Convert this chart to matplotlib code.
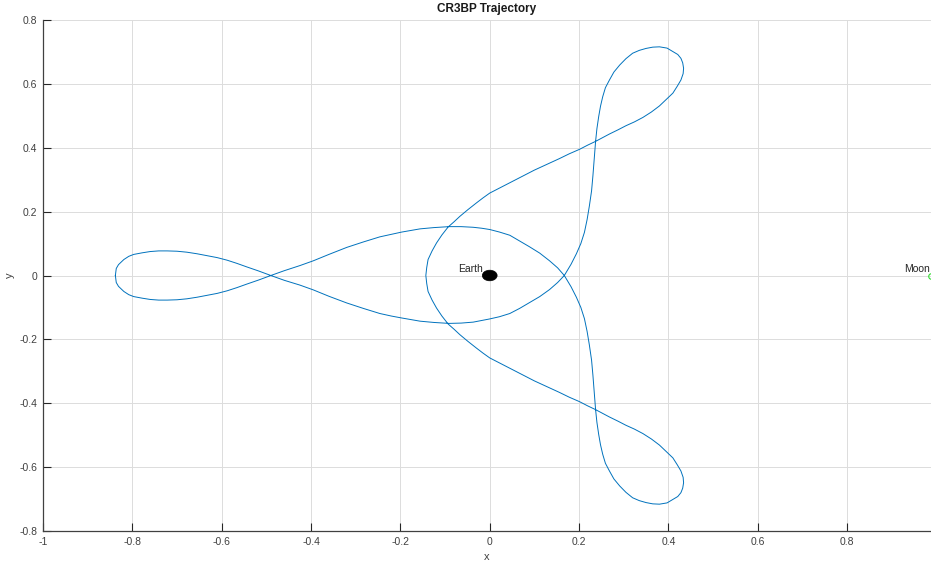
import matplotlib
matplotlib.use("Agg")
import matplotlib.pyplot as plt
import matplotlib.patches as patch

# rotating-frame trajectory, nondimensional units (Earth-Moon distance = 1),
# listed leg by leg in the order it is flown
lobe_left_up_x = [-0.838, -0.836, -0.831, -0.819, -0.808, -0.797, -0.778, -0.760, -0.741, -0.722,
                  -0.700, -0.678, -0.655, -0.633, -0.610, -0.588, -0.566, -0.544, -0.517, -0.490]
lobe_left_up_y = [0.000, 0.022, 0.034, 0.050, 0.060, 0.066, 0.071, 0.075, 0.077, 0.077,
                  0.076, 0.073, 0.068, 0.062, 0.056, 0.048, 0.038, 0.027, 0.014, 0.000]

under_earth_x = [-0.460, -0.425, -0.395, -0.360, -0.320, -0.283, -0.246, -0.220, -0.197, -0.156,
                 -0.125, -0.091, -0.064, -0.037, -0.018, 0.000, 0.022, 0.045, 0.067, 0.089,
                 0.112, 0.134, 0.152, 0.167]
under_earth_y = [-0.015, -0.030, -0.045, -0.065, -0.086, -0.103, -0.119, -0.127, -0.133, -0.143,
                 -0.147, -0.150, -0.149, -0.146, -0.141, -0.136, -0.129, -0.119, -0.103, -0.085,
                 -0.066, -0.044, -0.022, 0.000]

rise_x = [0.182, 0.194, 0.204, 0.212, 0.218, 0.223, 0.228, 0.231, 0.234, 0.237]
rise_y = [0.035, 0.068, 0.100, 0.135, 0.175, 0.217, 0.265, 0.312, 0.365, 0.420]

lobe_top_x = [0.240, 0.244, 0.248, 0.253, 0.259, 0.268, 0.278, 0.291, 0.305, 0.320,
              0.335, 0.350, 0.365, 0.380, 0.397, 0.410, 0.421, 0.428, 0.432, 0.434,
              0.433, 0.428, 0.420, 0.410, 0.395, 0.380, 0.362, 0.343, 0.324, 0.305,
              0.287, 0.268, 0.252, 0.237]
lobe_top_y = [0.460, 0.498, 0.530, 0.560, 0.588, 0.612, 0.637, 0.659, 0.679, 0.696,
              0.705, 0.711, 0.715, 0.716, 0.712, 0.701, 0.692, 0.680, 0.666, 0.649,
              0.632, 0.612, 0.593, 0.571, 0.551, 0.531, 0.512, 0.495, 0.481, 0.469,
              0.456, 0.443, 0.431, 0.420]

inbound_x = [0.219, 0.201, 0.178, 0.156, 0.128, 0.100, 0.075, 0.050, 0.025, 0.000]
inbound_y = [0.408, 0.395, 0.381, 0.366, 0.348, 0.330, 0.312, 0.294, 0.276, 0.258]

earth_swing_x = [-0.015, -0.030, -0.049, -0.067, -0.080, -0.093, -0.107, -0.119, -0.129, -0.138,
                 -0.141, -0.143, -0.141, -0.138, -0.129, -0.119, -0.107, -0.093, -0.080, -0.067,
                 -0.049, -0.030, -0.015, 0.000]
earth_swing_y = [0.243, 0.227, 0.206, 0.185, 0.168, 0.152, 0.127, 0.102, 0.077, 0.050,
                 0.025, 0.000, -0.025, -0.050, -0.077, -0.102, -0.127, -0.152, -0.168, -0.185,
                 -0.206, -0.227, -0.243, -0.258]

outbound_x = [0.025, 0.050, 0.075, 0.100, 0.128, 0.156, 0.178, 0.201, 0.219, 0.237]
outbound_y = [-0.276, -0.294, -0.312, -0.330, -0.348, -0.366, -0.381, -0.395, -0.408, -0.420]

lobe_bottom_x = [0.252, 0.268, 0.287, 0.305, 0.324, 0.343, 0.362, 0.380, 0.395, 0.410,
                 0.420, 0.428, 0.433, 0.434, 0.432, 0.428, 0.421, 0.410, 0.397, 0.380,
                 0.365, 0.350, 0.335, 0.320, 0.305, 0.291, 0.278, 0.268, 0.259, 0.253,
                 0.248, 0.244, 0.240, 0.237]
lobe_bottom_y = [-0.431, -0.443, -0.456, -0.469, -0.481, -0.495, -0.512, -0.531, -0.551, -0.571,
                 -0.593, -0.612, -0.632, -0.649, -0.666, -0.680, -0.692, -0.701, -0.712, -0.716,
                 -0.715, -0.711, -0.705, -0.696, -0.679, -0.659, -0.637, -0.612, -0.588, -0.560,
                 -0.530, -0.498, -0.460, -0.420]

climb_x = [0.234, 0.231, 0.228, 0.223, 0.218, 0.212, 0.204, 0.194, 0.182, 0.167]
climb_y = [-0.365, -0.312, -0.265, -0.217, -0.175, -0.135, -0.100, -0.068, -0.035, 0.000]

over_earth_x = [0.152, 0.134, 0.112, 0.089, 0.067, 0.045, 0.022, 0.000, -0.018, -0.037,
                -0.064, -0.091, -0.125, -0.156, -0.197, -0.220, -0.246, -0.283, -0.320, -0.360,
                -0.395, -0.425, -0.460, -0.490]
over_earth_y = [0.024, 0.046, 0.070, 0.090, 0.108, 0.126, 0.136, 0.144, 0.148, 0.151,
                0.153, 0.153, 0.150, 0.146, 0.136, 0.129, 0.121, 0.105, 0.088, 0.066,
                0.046, 0.031, 0.015, 0.000]

lobe_left_down_x = [-0.517, -0.544, -0.566, -0.588, -0.610, -0.633, -0.655, -0.678, -0.700, -0.722,
                    -0.741, -0.760, -0.778, -0.797, -0.808, -0.819, -0.831, -0.836, -0.838]
lobe_left_down_y = [-0.014, -0.027, -0.038, -0.048, -0.056, -0.062, -0.068, -0.073, -0.076, -0.077,
                    -0.077, -0.075, -0.071, -0.066, -0.060, -0.050, -0.034, -0.022, 0.000]

traj_x = (lobe_left_up_x + under_earth_x + rise_x + lobe_top_x + inbound_x + earth_swing_x
          + outbound_x + lobe_bottom_x + climb_x + over_earth_x + lobe_left_down_x)
traj_y = (lobe_left_up_y + under_earth_y + rise_y + lobe_top_y + inbound_y + earth_swing_y
          + outbound_y + lobe_bottom_y + climb_y + over_earth_y + lobe_left_down_y)

earth_pos = (0.0, 0.0)
earth_radius = 6371.0 / 384400.0
moon_pos = (0.98785, 0.0)

x_ticks = [-1, -0.8, -0.6, -0.4, -0.2, 0, 0.2, 0.4, 0.6, 0.8]
y_ticks = [-0.8, -0.6, -0.4, -0.2, 0, 0.2, 0.4, 0.6, 0.8]

plt.rcParams['font.family'] = ['Liberation Sans', 'DejaVu Sans']

fig = plt.figure(figsize=(9.31, 5.66), dpi=100)
ax = fig.add_axes([43 / 931, 1 - 531 / 566, 888 / 931, 511 / 566])

ax.plot(traj_x, traj_y, color='#0072BD', linewidth=0.7, solid_joinstyle='round', zorder=3)

# Earth drawn to scale, Moon as a small marker
earth = patch.Circle(earth_pos, earth_radius, facecolor='k', edgecolor='k', linewidth=0.5, zorder=4)
ax.add_patch(earth)
ax.plot(moon_pos[0], moon_pos[1], 'o', markersize=4, markerfacecolor='none',
        markeredgecolor='#33dd33', markeredgewidth=0.8, clip_on=False, zorder=4)

ax.text(earth_pos[0] - 0.015, 0.02, 'Earth', ha='right', va='center', fontsize=7.5, color='#262626')
ax.text(moon_pos[0] - 0.003, 0.02, 'Moon', ha='right', va='center', fontsize=7.5, color='#262626')

ax.set_xlim(-1, moon_pos[0])
ax.set_ylim(-0.8, 0.8)
ax.set_xticks(x_ticks)
ax.set_yticks(y_ticks)
ax.set_xticklabels(['%g' % t for t in x_ticks])
ax.set_yticklabels(['%g' % t for t in y_ticks])
ax.tick_params(direction='in', length=6, width=0.8, colors='#262626', labelsize=7.5,
               labelcolor='#404040', pad=4)

ax.grid(True, color='#dcdcdc', linewidth=0.7)
ax.set_axisbelow(True)
for side in ['top', 'right']:
    ax.spines[side].set_visible(False)
for side in ['left', 'bottom']:
    ax.spines[side].set_color('#404040')
    ax.spines[side].set_linewidth(0.9)

ax.set_xlabel('x', fontsize=8, color='#404040', labelpad=4)
ax.set_ylabel('y', fontsize=8, color='#404040', labelpad=3)
ax.set_title('CR3BP Trajectory', fontsize=8.5, fontweight='bold', color='#1a1a1a', pad=6)

fig.savefig('out.png', dpi=100)
